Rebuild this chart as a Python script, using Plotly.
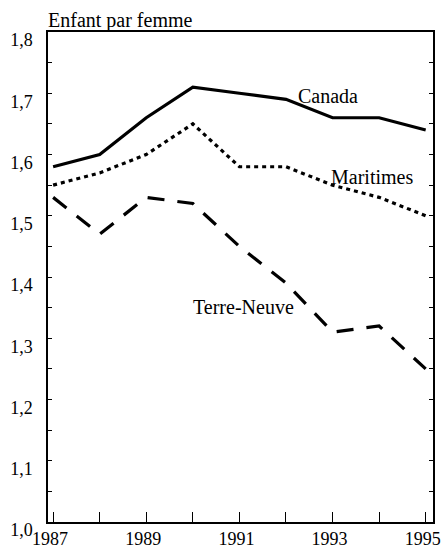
import plotly.graph_objects as go

years = [1987, 1988, 1989, 1990, 1991, 1992, 1993, 1994, 1995]
canada = [1.58, 1.60, 1.66, 1.71, 1.70, 1.69, 1.66, 1.66, 1.64]
maritimes = [1.55, 1.57, 1.60, 1.65, 1.58, 1.58, 1.55, 1.53, 1.50]
terre_neuve = [1.53, 1.47, 1.53, 1.52, 1.45, 1.39, 1.31, 1.32, 1.25]

x_tick_vals = years
x_tick_text = ["1987", "", "1989", "", "1991", "", "1993", "", "1995"]
y_tick_vals = [1.0, 1.1, 1.2, 1.3, 1.4, 1.5, 1.6, 1.7, 1.8]
y_tick_text = ["1,0", "1,1", "1,2", "1,3", "1,4", "1,5", "1,6", "1,7", "1,8"]
y_minor_vals = [1.05, 1.15, 1.25, 1.35, 1.45, 1.55, 1.65, 1.75]

font_family = "Liberation Serif, Times New Roman, serif"

fig = go.Figure()
fig.add_trace(go.Scatter(x=years, y=canada, mode="lines", name="Canada",
                         line=dict(color="black", width=3.2, dash="solid")))
fig.add_trace(go.Scatter(x=years, y=maritimes, mode="lines", name="Maritimes",
                         line=dict(color="black", width=3.2, dash="4px,4px")))
fig.add_trace(go.Scatter(x=years, y=terre_neuve, mode="lines", name="Terre-Neuve",
                         line=dict(color="black", width=3.2, dash="17px,13px")))

fig.add_annotation(x=1992.21, y=1.695, text="Canada", showarrow=False,
                   xanchor="left", yanchor="middle",
                   font=dict(family=font_family, size=20, color="black"))
fig.add_annotation(x=1992.92, y=1.563, text="Maritimes", showarrow=False,
                   xanchor="left", yanchor="middle",
                   font=dict(family=font_family, size=20, color="black"))
fig.add_annotation(x=1989.97, y=1.351, text="Terre-Neuve", showarrow=False,
                   xanchor="left", yanchor="middle",
                   font=dict(family=font_family, size=20, color="black"))
fig.add_annotation(x=0, y=1, xref="paper", yref="paper", text="Enfant par femme",
                   showarrow=False, xanchor="left", yanchor="bottom", yshift=-2,
                   xshift=-2,
                   font=dict(family=font_family, size=20, color="black"))

fig.update_layout(
    width=444, height=553,
    margin=dict(l=48, r=11, t=32, b=31, autoexpand=False),
    paper_bgcolor="white", plot_bgcolor="white",
    showlegend=False,
    font=dict(family=font_family, size=18, color="black"),
    xaxis=dict(range=[1986.89, 1995.157], tickvals=x_tick_vals, ticktext=x_tick_text,
               ticks="inside", ticklen=10, tickcolor="black", tickwidth=1,
               showline=True, linecolor="black", linewidth=1.5, mirror=True,
               showgrid=False, zeroline=False, automargin=False,
               ticklabelshift=-3, ticklabelstandoff=0),
    yaxis=dict(range=[1.0, 1.8], tickvals=y_tick_vals, ticktext=y_tick_text,
               ticks="inside", ticklen=4, tickcolor="black", tickwidth=1,
               minor=dict(tickvals=y_minor_vals,
                          ticks="inside", ticklen=4, tickcolor="black"),
               showline=True, linecolor="black", linewidth=1.5, mirror="ticks",
               showgrid=False, zeroline=False, automargin=False,
               ticklabelshift=8, ticklabelstandoff=10),
)

fig.write_html("out.html",
               config={"displayModeBar": False},
               post_script="document.body.style.margin='0';document.body.style.padding='0';")
